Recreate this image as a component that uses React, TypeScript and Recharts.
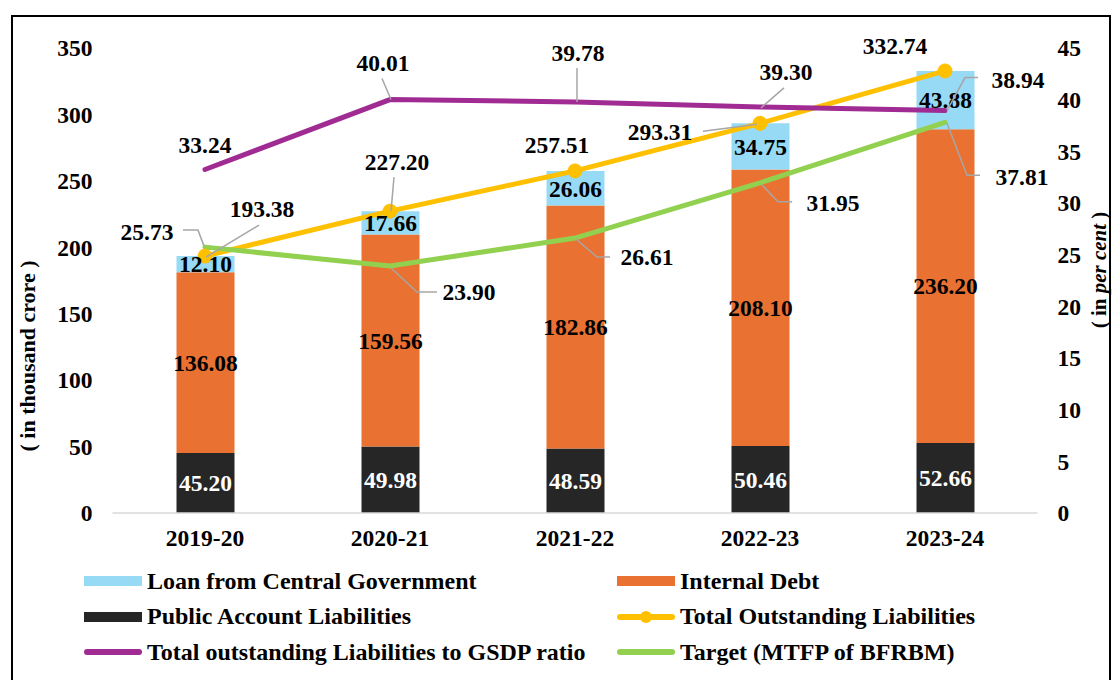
import {
  ComposedChart, Bar, Line, XAxis, YAxis, LabelList
} from "recharts";

const years = ["2019-20", "2020-21", "2021-22", "2022-23", "2023-24"];
const publicAccount = [45.2, 49.98, 48.59, 50.46, 52.66];
const internalDebt = [136.08, 159.56, 182.86, 208.1, 236.2];
const centralLoan = [12.1, 17.66, 26.06, 34.75, 43.88];
const totalLiabilities = [193.38, 227.2, 257.51, 293.31, 332.74];
const gsdpRatio = [33.24, 40.01, 39.78, 39.3, 38.94];
const target = [25.73, 23.9, 26.61, 31.95, 37.81];
const leftTicks = [0, 50, 100, 150, 200, 250, 300, 350];
const rightTicks = [0, 5, 10, 15, 20, 25, 30, 35, 40, 45];

const data = years.map((year, i) => ({
  year,
  publicAccount: publicAccount[i],
  internalDebt: internalDebt[i],
  centralLoan: centralLoan[i],
  total: totalLiabilities[i],
  ratio: gsdpRatio[i],
  target: target[i],
}));

const FONT = "'Liberation Serif', 'Times New Roman', serif";
const BLUE = "#97DAF5";
const ORANGE = "#E97132";
const BLACK = "#262626";
const YELLOW = "#FFC000";
const PURPLE = "#A02B93";
const GREEN = "#92D050";
const FS = 23.5;

// label offsets from each point, with optional leader polyline
const totalLabels = [
  { dx: 57, dy: -47, lead: [[1, 1], [54, -31]] },
  { dx: 7, dy: -49, lead: [[1, 0], [4, -34]] },
  { dx: -18, dy: -26, lead: null },
  { dx: -100, dy: 9, lead: [[-3, 1], [-57, 8]] },
  { dx: -50, dy: -25, lead: null },
];
const ratioLabels = [
  { dx: 0, dy: -25, lead: null },
  { dx: -7, dy: -37, lead: [[1, 0], [-8, -21]] },
  { dx: 3, dy: -49, lead: [[2, 0], [2, -34]] },
  { dx: 26, dy: -35, lead: [[1, 1], [24, -19]] },
  { dx: 73, dy: -31, lead: [[2, 0], [20, -33], [33, -33]] },
];
const targetLabels = [
  { dx: -58, dy: -15, lead: [[-1, -1], [-7, -17], [-22, -17]] },
  { dx: 79, dy: 26, lead: [[1, 2], [27, 26], [47, 26]] },
  { dx: 72, dy: 19, lead: [[1, 1], [22, 19], [35, 19]] },
  { dx: 73, dy: 20, lead: [[2, 2], [18, 19], [32, 19]] },
  { dx: 77, dy: 55, lead: [[2, 1], [22, 53], [35, 53]] },
];

const fmt = (v) => Number(v).toFixed(2);

function lineLabel(pos) {
  return (props) => {
    const { x, y, value, index } = props;
    const p = pos[index];
    if (!p || x == null || y == null) return null;
    return (
      <g>
        {p.lead && (
          <polyline
            points={p.lead.map(([a, b]) => `${x + a},${y + b}`).join(" ")}
            fill="none"
            stroke="#A6A6A6"
            strokeWidth={1.5}
          />
        )}
        <text
          x={x + p.dx}
          y={y + p.dy}
          textAnchor="middle"
          dominantBaseline="central"
          fontFamily={FONT}
          fontWeight="bold"
          fontSize={FS}
          fill="#000"
        >
          {fmt(value)}
        </text>
      </g>
    );
  };
}

const tickStyle = { fontFamily: FONT, fontWeight: "bold", fontSize: FS, fill: "#000" };

const legendItems = [
  { name: "Loan from Central Government", color: BLUE, type: "rect", col: 0, row: 0 },
  { name: "Internal Debt", color: ORANGE, type: "rect", col: 1, row: 0 },
  { name: "Public Account Liabilities", color: BLACK, type: "rect", col: 0, row: 1 },
  { name: "Total Outstanding Liabilities", color: YELLOW, type: "dot", col: 1, row: 1 },
  { name: "Total outstanding Liabilities to GSDP ratio", color: PURPLE, type: "line", col: 0, row: 2 },
  { name: "Target (MTFP of BFRBM)", color: GREEN, type: "line", col: 1, row: 2 },
];

function LegendIcon({ type, color }) {
  return (
    <svg width={60} height={16} style={{ display: "block" }}>
      {type === "rect" && <rect x={1} y={3} width={58} height={10} fill={color} />}
      {type !== "rect" && (
        <line x1={4} y1={8} x2={56} y2={8} stroke={color} strokeWidth={6} strokeLinecap="round" />
      )}
      {type === "dot" && <circle cx={30} cy={8} r={6} fill={color} />}
    </svg>
  );
}

export default function App() {
  return (
    <div
      style={{
        position: "fixed", left: 0, top: 0, width: 1114, height: 680,
        overflow: "hidden", background: "#fff", fontFamily: FONT,
      }}
    >
      <div
        style={{
          position: "absolute", left: 11, top: 15, width: 1100, height: 700,
          border: "2px solid #000", boxSizing: "border-box",
        }}
      />

      <div style={{ position: "absolute", left: 0, top: 0 }}>
        <ComposedChart
          width={1114}
          height={680}
          data={data}
          margin={{ top: 48, right: 16.5, bottom: 137, left: 52.5 }}
          barSize={58}
        >
          <XAxis
            dataKey="year"
            tickLine={false}
            tickSize={0}
            tickMargin={16}
            height={30}
            axisLine={{ stroke: "#D9D9D9", strokeWidth: 1.5 }}
            tick={tickStyle}
          />
          <YAxis
            yAxisId="left"
            domain={[0, 350]}
            ticks={leftTicks}
            width={60}
            axisLine={false}
            tickLine={false}
            tickSize={0}
            tickMargin={20}
            tick={tickStyle}
          />
          <YAxis
            yAxisId="right"
            orientation="right"
            domain={[0, 45]}
            ticks={rightTicks}
            width={60}
            axisLine={false}
            tickLine={false}
            tickSize={0}
            tickMargin={20}
            tick={{ ...tickStyle, textAnchor: "start" }}
          />

          <Bar yAxisId="left" dataKey="publicAccount" stackId="a" fill={BLACK} isAnimationActive={false}>
            <LabelList dataKey="publicAccount" position="center" formatter={fmt}
              fill="#fff" fontFamily={FONT} fontWeight="bold" fontSize={FS} />
          </Bar>
          <Bar yAxisId="left" dataKey="internalDebt" stackId="a" fill={ORANGE} isAnimationActive={false}>
            <LabelList dataKey="internalDebt" position="center" formatter={fmt}
              fill="#000" fontFamily={FONT} fontWeight="bold" fontSize={FS} />
          </Bar>
          <Bar yAxisId="left" dataKey="centralLoan" stackId="a" fill={BLUE} isAnimationActive={false}>
            <LabelList dataKey="centralLoan" position="center" formatter={fmt}
              fill="#000" fontFamily={FONT} fontWeight="bold" fontSize={FS} />
          </Bar>

          <Line
            yAxisId="left"
            dataKey="total"
            stroke={YELLOW}
            strokeWidth={5}
            dot={{ r: 7, fill: YELLOW, stroke: YELLOW, strokeWidth: 1 }}
            activeDot={false}
            isAnimationActive={false}
          >
            <LabelList dataKey="total" content={lineLabel(totalLabels)} />
          </Line>
          <Line
            yAxisId="right"
            dataKey="ratio"
            stroke={PURPLE}
            strokeWidth={5}
            strokeLinecap="round"
            dot={false}
            activeDot={false}
            isAnimationActive={false}
          >
            <LabelList dataKey="ratio" content={lineLabel(ratioLabels)} />
          </Line>
          <Line
            yAxisId="right"
            dataKey="target"
            stroke={GREEN}
            strokeWidth={5}
            strokeLinecap="round"
            dot={false}
            activeDot={false}
            isAnimationActive={false}
          >
            <LabelList dataKey="target" content={lineLabel(targetLabels)} />
          </Line>
        </ComposedChart>
      </div>

      {/* axis titles */}
      <div
        style={{
          position: "absolute", left: 28, top: 356, whiteSpace: "nowrap",
          transform: "translate(-50%, -50%) rotate(-90deg)",
          fontWeight: "bold", fontSize: 22,
        }}
      >
        ( in thousand crore )
      </div>
      <div
        style={{
          position: "absolute", left: 1099, top: 270, whiteSpace: "nowrap",
          transform: "translate(-50%, -50%) rotate(-90deg)",
          fontWeight: "bold", fontSize: 21,
        }}
      >
        ( in <i>per cent</i> )
      </div>

      {/* legend */}
      {legendItems.map((item) => (
        <div
          key={item.name}
          style={{
            position: "absolute",
            left: item.col === 0 ? 83 : 616,
            top: 581 + item.row * 35.5 - 14,
            height: 28,
            display: "flex",
            alignItems: "center",
            fontWeight: "bold",
            fontSize: 24,
            whiteSpace: "nowrap",
          }}
        >
          <LegendIcon type={item.type} color={item.color} />
          <span style={{ marginLeft: 4 }}>{item.name}</span>
        </div>
      ))}
    </div>
  );
}
